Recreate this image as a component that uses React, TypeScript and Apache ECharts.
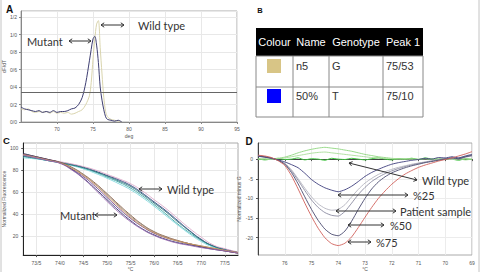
import React, { useEffect, useRef } from "react";
import * as echarts from "echarts";

// ---------- Panel A: melt peaks (dF/dT) ----------
const meltTemps = [65, 65.5, 66, 66.5, 67, 67.5, 68, 68.5, 69, 69.5, 70, 70.5, 71, 71.5, 72, 72.5, 73, 73.5, 74, 74.5, 74.75, 75, 75.25, 75.5, 75.75, 76, 76.25, 76.5, 76.75, 77, 77.5, 78, 78.5, 79];
const mutantPeak = [0.17, 0.15, 0.14, 0.13, 0.12, 0.13, 0.11, 0.12, 0.11, 0.13, 0.11, 0.12, 0.12, 0.13, 0.15, 0.16, 0.2, 0.28, 0.45, 0.7, 0.83, 0.95, 0.98, 0.88, 0.68, 0.4, 0.25, 0.14, 0.06, 0.03, 0.02, 0.01, 0.02, 0.0];
const wildPeak = [0.15, 0.14, 0.15, 0.12, 0.11, 0.12, 0.11, 0.12, 0.1, 0.12, 0.1, 0.11, 0.1, 0.11, 0.09, 0.1, 0.12, 0.14, 0.2, 0.3, 0.45, 0.72, 0.95, 1.12, 1.16, 0.85, 0.55, 0.28, 0.12, 0.06, 0.03, 0.02, 0.01, 0.0];
const thresholdLevel = 0.34;

// ---------- Panel B: genotype table ----------
const tableHeader = ["Colour", "Name", "Genotype", "Peak 1"];
const sampleNames = ["n5", "50%"];
const sampleGenotypes = ["G", "T"];
const samplePeaks = ["75/53", "75/10"];
const sampleSwatches = ["#d8c586", "#0000ff"];

// ---------- Panel C: normalized melt curves ----------
const hrmTemps = [73.22, 73.5, 73.75, 74, 74.25, 74.5, 74.75, 75, 75.25, 75.5, 75.75, 76, 76.25, 76.5, 76.75, 77, 77.25, 77.5, 77.78];
const wildCurve1 = [93, 91, 89, 87, 85, 82.5, 79, 75, 71, 66, 59, 51, 43, 34, 25, 17, 11, 8, 5];
const wildCurve2 = [92, 90.5, 88.5, 87, 84.5, 81.5, 78, 73.5, 69, 63.5, 56.5, 48.5, 40, 31, 23, 16, 10.5, 7.5, 5];
const wildCurve3 = [91, 90, 88.5, 86.5, 84, 81, 77, 72.5, 67.5, 62, 55, 47, 38.5, 30, 22, 15, 10, 7, 5];
const wildCurve4 = [93.5, 91.5, 89.5, 87.5, 85.5, 83, 80, 76, 72, 67.5, 61, 53, 45, 36, 27, 19, 12, 8.5, 5.5];
const wildCurve5 = [92.5, 90.5, 88.5, 86.5, 84.5, 82, 78.5, 74.5, 70, 65, 58, 50, 42, 33, 24.5, 16.5, 11, 7.5, 5];
const mutantCurve1 = [94, 91.5, 89, 86.5, 81, 74, 65, 55, 45, 36, 28.5, 22.5, 18.5, 15.5, 13, 10.5, 8.5, 7, 5];
const mutantCurve2 = [94.5, 92, 89.5, 87, 82.5, 76, 68, 58.5, 48.5, 39, 30.5, 24, 19.5, 16, 13, 10.5, 8.5, 6.5, 4.5];
const mutantCurve3 = [93.5, 91, 89, 86.5, 82, 75.5, 67, 57.5, 47.5, 38, 30, 23.5, 19, 15.5, 13, 11, 9, 7, 5];
const mutantCurve4 = [95, 92, 89.5, 86.5, 80.5, 72.5, 63, 53, 43, 34, 26.5, 21, 17, 14, 12, 10, 8, 6.5, 4.5];
const mutantCurve5 = [94, 91.5, 89, 86.5, 81.5, 75, 66.5, 56.5, 46.5, 37, 29, 23, 18.5, 15.5, 13, 11, 9, 7, 5];
const mutantCurve6 = [93.5, 91, 88.5, 86, 80, 72, 62, 51.5, 41.5, 33, 26, 20.5, 16.5, 13.5, 11.5, 9.5, 8, 6.5, 4.5];
const fluorTicks = [20, 40, 60, 80, 100];
const hrmTempTicks = [73.5, 74, 74.5, 75, 75.5, 76, 76.5, 77, 77.5];

// ---------- Panel D: difference plot (normalized minus G) ----------
const diffTemps = [77, 76.75, 76.5, 76.25, 76, 75.75, 75.5, 75.25, 75, 74.75, 74.5, 74.25, 74, 73.75, 73.5, 73.25, 73, 72.75, 72.5, 72.25, 72, 71.75, 71.5, 71.25, 71, 70.75, 70.5, 70.25, 70, 69.75, 69.5, 69.25, 69];
const diffWildFlat = [0.1, -0.2, 0.0, 0.2, -0.1, 0.0, 0.3, -0.2, 0.1, 0.0, -0.3, 0.2, 0.0, -0.1, 0.2, 0.0, -0.2, 0.1, 0.3, 0.0, -0.2, 0.1, 0.0, 0.2, -0.1, 0.3, 0.0, -0.2, 0.1, 0.0, -0.3, 0.1, -0.1];
const diffWildHigh = [0.0, 0.1, 0.0, 0.2, 0.5, 1.0, 1.6, 2.1, 2.5, 2.8, 3.0, 2.8, 2.6, 2.3, 2.0, 1.6, 1.2, 0.9, 0.6, 0.4, 0.2, 0.1, 0.0, 0.2, -0.1, 0.1, 0.0, 0.2, -0.1, 0.0, 0.1, -0.2, 0.0];
const diffWildLow = [0.0, 0.0, -0.1, 0.1, 0.3, 0.6, 0.9, 1.2, 1.5, 1.7, 1.8, 1.6, 1.4, 1.2, 1.0, 0.8, 0.6, 0.4, 0.3, 0.2, 0.1, 0.0, 0.1, -0.1, 0.0, 0.1, -0.1, 0.0, 0.1, -0.1, 0.0, 0.1, 0.0];
const diffPatientB = [0.8, 0.5, 0.2, -0.3, -1.0, -2.7, -5.0, -7.4, -9.6, -11.4, -12.5, -13.0, -12.8, -11.6, -9.6, -7.7, -6.1, -4.9, -3.9, -3.2, -2.6, -2.1, -1.7, -1.3, -1.0, -0.7, -0.4, -0.2, 0.2, 0.0, 0.4, 0.6, 0.9];
const diffPatientA = [0.9, 0.6, 0.2, -0.3, -1.2, -3.0, -5.4, -8.0, -10.4, -12.3, -13.6, -14.3, -14.5, -13.3, -11.2, -9.0, -7.2, -5.7, -4.6, -3.7, -3.0, -2.4, -1.9, -1.5, -1.1, -0.8, -0.5, -0.2, 0.1, 0.3, 0.0, 0.5, 0.8];
const diff25 = [0.7, 0.5, 0.2, -0.2, -0.7, -1.4, -2.2, -3.6, -5.2, -6.4, -7.3, -7.9, -8.3, -7.8, -6.9, -5.7, -4.4, -3.4, -2.6, -1.9, -1.3, -0.9, -0.6, -0.3, -0.1, 0.2, 0.0, 0.4, 0.3, 0.6, 0.3, 0.8, 1.2];
const diff50 = [0.8, 0.6, 0.3, -0.3, -1.3, -3.4, -6.3, -9.6, -12.8, -15.6, -17.8, -19.1, -19.5, -18.3, -15.8, -12.8, -10.0, -7.6, -5.8, -4.5, -3.5, -2.8, -2.2, -1.7, -1.3, -0.9, -0.6, -0.3, 0.0, 0.3, 0.1, 0.6, 1.0];
const diff75 = [1.0, 0.8, 0.4, -0.4, -1.6, -4.2, -7.6, -11.2, -14.6, -17.6, -20.0, -21.5, -22.0, -21.4, -19.8, -17.4, -14.8, -12.3, -10.0, -8.1, -6.4, -5.0, -3.8, -2.9, -2.1, -1.5, -1.0, -0.5, -0.1, 0.3, 0.8, 1.3, 1.9];
const diffTicks = [-20, -15, -10, -5, 0];

const pairs = (xs: number[], ys: number[]) => xs.map((x, i) => [x, ys[i]]);
const slash = (v: number) => v.toFixed(1).replace(".", "/");

const TICK_FONT = { fontSize: 5, color: "#555", fontFamily: "Liberation Sans" };
const NOTE_FONT = "Lato";
const INK = "#333";

function textEl(text: string, x: number, y: number, opts: any = {}) {
  return {
    type: "text",
    x,
    y,
    silent: true,
    z: 20,
    style: {
      text,
      fill: opts.fill || INK,
      fontSize: opts.fontSize || 11,
      fontFamily: opts.fontFamily || NOTE_FONT,
      fontWeight: opts.fontWeight || "normal",
      align: opts.align || "left",
      verticalAlign: "middle",
    },
  };
}

function arrowEls(x1: number, y1: number, x2: number, y2: number) {
  const a = Math.atan2(y2 - y1, x2 - x1);
  const head = (x: number, y: number, ang: number) => {
    const h = 3.2;
    const w = 2.2;
    const bx = x - h * Math.cos(ang);
    const by = y - h * Math.sin(ang);
    const px = -Math.sin(ang) * w;
    const py = Math.cos(ang) * w;
    return {
      type: "polyline",
      silent: true,
      z: 20,
      shape: { points: [[bx + px, by + py], [x, y], [bx - px, by - py]] },
      style: { stroke: INK, lineWidth: 1, fill: null },
    };
  };
  return [
    { type: "line", silent: true, z: 20, shape: { x1, y1, x2, y2 }, style: { stroke: INK, lineWidth: 1 } },
    head(x2, y2, a),
    head(x1, y1, a + Math.PI),
  ];
}

function tableEls() {
  const left = 256, right = 423, top = 28, headBottom = 56, rowBottom = 87, bottom = 117;
  const cols = [256, 293, 329, 383, 423];
  const els: any[] = [];
  els.push({ type: "rect", silent: true, shape: { x: left, y: top, width: right - left, height: headBottom - top }, style: { fill: "#000" } });
  els.push({ type: "rect", silent: true, shape: { x: left, y: headBottom, width: right - left, height: bottom - headBottom }, style: { fill: "#fff", stroke: "#888", lineWidth: 1 } });
  els.push({ type: "line", silent: true, shape: { x1: left, y1: rowBottom, x2: right, y2: rowBottom }, style: { stroke: "#888", lineWidth: 1 } });
  for (let c = 1; c < cols.length - 1; c++) {
    els.push({ type: "line", silent: true, shape: { x1: cols[c], y1: headBottom, x2: cols[c], y2: bottom }, style: { stroke: "#888", lineWidth: 1 } });
  }
  tableHeader.forEach((h, c) => {
    els.push(textEl(h, (cols[c] + cols[c + 1]) / 2, 42, { fill: "#fff", fontSize: 11, fontFamily: "Liberation Sans", align: "center" }));
  });
  const rowMid = [66, 96];
  sampleNames.forEach((n, r) => {
    els.push({ type: "rect", silent: true, shape: { x: 267, y: rowMid[r] - 7, width: 14, height: 14 }, style: { fill: sampleSwatches[r] } });
    els.push(textEl(n, cols[1] + 3, rowMid[r] - 0.5, { fill: "#333", fontSize: 11, fontFamily: "Liberation Sans" }));
    els.push(textEl(sampleGenotypes[r], cols[2] + 3, rowMid[r] - 0.5, { fill: "#333", fontSize: 11, fontFamily: "Liberation Sans" }));
    els.push(textEl(samplePeaks[r], cols[3] + 3, rowMid[r] - 0.5, { fill: "#333", fontSize: 11, fontFamily: "Liberation Sans" }));
  });
  return els;
}

function buildOption() {
  const frameAxis = (color: string) => ({ show: true, lineStyle: { color, width: 1 } });
  const grid = (left: number, top: number, width: number, height: number) => ({
    left, top, width, height, show: true, borderColor: "#aaa", borderWidth: 1, backgroundColor: "#fff",
  });

  const hrmLine = (name: string, data: number[], color: string) => ({
    name, type: "line", xAxisIndex: 1, yAxisIndex: 1, data: pairs(hrmTemps, data), smooth: true,
    showSymbol: false, silent: true, lineStyle: { color, width: 0.9 },
  });
  const diffLine = (name: string, data: number[], color: string, width = 0.9) => ({
    name, type: "line", xAxisIndex: 2, yAxisIndex: 2, data: pairs(diffTemps, data), smooth: 0.2,
    showSymbol: false, silent: true, lineStyle: { color, width },
  });

  const graphics: any[] = [
    { type: "line", silent: true, shape: { x1: 1, y1: 0, x2: 1, y2: 272 }, style: { stroke: "#c4c4c4", lineWidth: 1 } },
    { type: "line", silent: true, shape: { x1: 479, y1: 0, x2: 479, y2: 272 }, style: { stroke: "#c4c4c4", lineWidth: 1 } },
    textEl("A", 9.7, 9.5, { fontSize: 10, fontWeight: "bold", fontFamily: "Liberation Sans", align: "center", fill: "#111" }),
    textEl("B", 260, 10, { fontSize: 7.5, fontWeight: "bold", fontFamily: "Liberation Sans", align: "center", fill: "#111" }),
    textEl("C", 6.5, 140.2, { fontSize: 9.5, fontWeight: "bold", fontFamily: "Liberation Sans", align: "center", fill: "#111" }),
    textEl("D", 249, 141.5, { fontSize: 10, fontWeight: "bold", fontFamily: "Liberation Sans", align: "center", fill: "#111" }),
    ...tableEls(),
    // Panel A notes
    textEl("Mutant", 27, 41),
    ...arrowEls(69, 41, 91, 41),
    textEl("Wild type", 138, 25),
    ...arrowEls(101, 25, 124, 25),
    // Panel C notes
    textEl("Wild type", 167, 189),
    ...arrowEls(139, 189, 162, 189),
    textEl("Mutant", 60, 215),
    ...arrowEls(95, 215, 117, 215),
    // Panel D notes
    ...arrowEls(349, 163, 417, 180),
    textEl("Wild type", 422, 180),
    ...arrowEls(338, 195, 408, 195),
    textEl("%25", 413, 195),
    ...arrowEls(336, 211, 396, 211),
    textEl("Patient sample", 400, 211),
    ...arrowEls(348, 225, 384, 225),
    textEl("%50", 390, 225),
    ...arrowEls(348, 242, 371, 242),
    textEl("%75", 376, 242),
  ];

  return {
    animation: false,
    backgroundColor: "#fff",
    grid: [grid(21, 11, 216, 111), grid(23, 143, 215, 113), grid(258, 143, 214, 112)],
    xAxis: [
      {
        type: "value", gridIndex: 0, min: 65, max: 95, interval: 5, name: "deg", nameLocation: "middle", nameGap: 11,
        nameTextStyle: { ...TICK_FONT },
        axisLine: frameAxis("#888"), axisTick: { show: true, length: 2, lineStyle: { color: "#888" } },
        axisLabel: { ...TICK_FONT, margin: 4, showMinLabel: false },
        splitLine: { show: true, lineStyle: { color: "#e8e8e8", width: 1 } },
      },
      {
        type: "value", gridIndex: 1, min: 73.22, max: 77.78, name: "°C", nameLocation: "middle", nameGap: 10,
        nameTextStyle: { ...TICK_FONT },
        axisLine: frameAxis("#222"), axisTick: { show: true, length: 2, customValues: hrmTempTicks, lineStyle: { color: "#555" } },
        axisLabel: { ...TICK_FONT, margin: 5, customValues: hrmTempTicks, formatter: (v: number) => slash(v) },
        splitLine: { show: true, lineStyle: { color: "#e8e8e8", width: 1 } },
      },
      {
        type: "value", gridIndex: 2, min: 69, max: 77, interval: 1, inverse: true, name: "°C", nameLocation: "middle", nameGap: 11,
        nameTextStyle: { ...TICK_FONT },
        axisLine: frameAxis("#444"), axisTick: { show: true, length: 2, lineStyle: { color: "#555" } },
        axisLabel: { ...TICK_FONT, margin: 5, showMaxLabel: false },
        splitLine: { show: true, lineStyle: { color: "#ececec", width: 1 } },
      },
    ],
    yAxis: [
      {
        type: "value", gridIndex: 0, min: 0, max: 1.27, interval: 0.2, name: "dF/dT", nameLocation: "middle", nameGap: 11,
        nameRotate: 90, nameTextStyle: { ...TICK_FONT },
        axisLine: frameAxis("#888"), axisTick: { show: true, length: 2, lineStyle: { color: "#888" } },
        axisLabel: { ...TICK_FONT, margin: 4, showMaxLabel: false, formatter: (v: number) => slash(v) },
        splitLine: { show: true, lineStyle: { color: "#e8e8e8", width: 1 } },
      },
      {
        type: "value", gridIndex: 1, min: 2.7, max: 104.5, name: "Normalized Fluorescence", nameLocation: "middle", nameGap: 14,
        nameRotate: 90, nameTextStyle: { ...TICK_FONT },
        axisLine: frameAxis("#222"), axisTick: { show: true, length: 2, customValues: fluorTicks, lineStyle: { color: "#555" } },
        axisLabel: { ...TICK_FONT, margin: 5, customValues: fluorTicks },
        splitLine: { show: true, lineStyle: { color: "#e8e8e8", width: 1 } },
      },
      {
        type: "value", gridIndex: 2, min: -24.4, max: 4.1, name: "Normalized minus G", nameLocation: "middle", nameGap: 12,
        nameRotate: 90, nameTextStyle: { ...TICK_FONT },
        axisLine: frameAxis("#444"), axisTick: { show: true, length: 2, customValues: diffTicks, lineStyle: { color: "#555" } },
        axisLabel: { ...TICK_FONT, margin: 5, customValues: diffTicks },
        splitLine: { show: true, lineStyle: { color: "#ececec", width: 1 } },
      },
    ],
    series: [
      {
        name: "Wild type", type: "line", xAxisIndex: 0, yAxisIndex: 0, data: pairs(meltTemps, wildPeak),
        showSymbol: false, silent: true, smooth: 0.3, lineStyle: { color: "#d9d4ad", width: 1 },
      },
      {
        name: "Mutant", type: "line", xAxisIndex: 0, yAxisIndex: 0, data: pairs(meltTemps, mutantPeak),
        showSymbol: false, silent: true, smooth: 0.3, lineStyle: { color: "#3e3e72", width: 1 },
        markLine: {
          silent: true, symbol: "none", label: { show: false },
          lineStyle: { color: "#666", type: "solid", width: 1 },
          data: [{ yAxis: thresholdLevel }],
        },
      },
      hrmLine("wild 1", wildCurve1, "#2c3e7a"),
      hrmLine("wild 2", wildCurve2, "#3aa6a0"),
      hrmLine("wild 3", wildCurve3, "#7fd6dc"),
      hrmLine("wild 4", wildCurve4, "#d9a6c6"),
      hrmLine("wild 5", wildCurve5, "#2a6f7a"),
      hrmLine("mutant 1", mutantCurve1, "#6a3d8f"),
      hrmLine("mutant 2", mutantCurve2, "#8a5a3c"),
      hrmLine("mutant 3", mutantCurve3, "#8c8c8c"),
      hrmLine("mutant 4", mutantCurve4, "#2a2a6a"),
      hrmLine("mutant 5", mutantCurve5, "#d49a5a"),
      hrmLine("mutant 6", mutantCurve6, "#9a6ab0"),
      diffLine("wild flat", diffWildFlat, "#3ec43e", 1),
      diffLine("wild high", diffWildHigh, "#8fd67f"),
      diffLine("wild low", diffWildLow, "#a8dd98"),
      diffLine("patient b", diffPatientB, "#b4b4c0"),
      diffLine("patient a", diffPatientA, "#8a8aa0"),
      diffLine("%25", diff25, "#3c3c7c"),
      diffLine("%50", diff50, "#4a4a6e"),
      diffLine("%75", diff75, "#d0605a"),
    ],
    graphic: { elements: graphics },
  };
}

export default function App() {
  const ref = useRef<HTMLDivElement>(null);
  useEffect(() => {
    if (!ref.current) return;
    const chart = echarts.init(ref.current, null, { renderer: "svg", width: 482, height: 272 });
    chart.setOption(buildOption() as any);
    return () => chart.dispose();
  }, []);
  return (
    <div
      ref={ref}
      style={{ position: "fixed", left: 0, top: 0, width: 482, height: 272, background: "#fff" }}
    />
  );
}
